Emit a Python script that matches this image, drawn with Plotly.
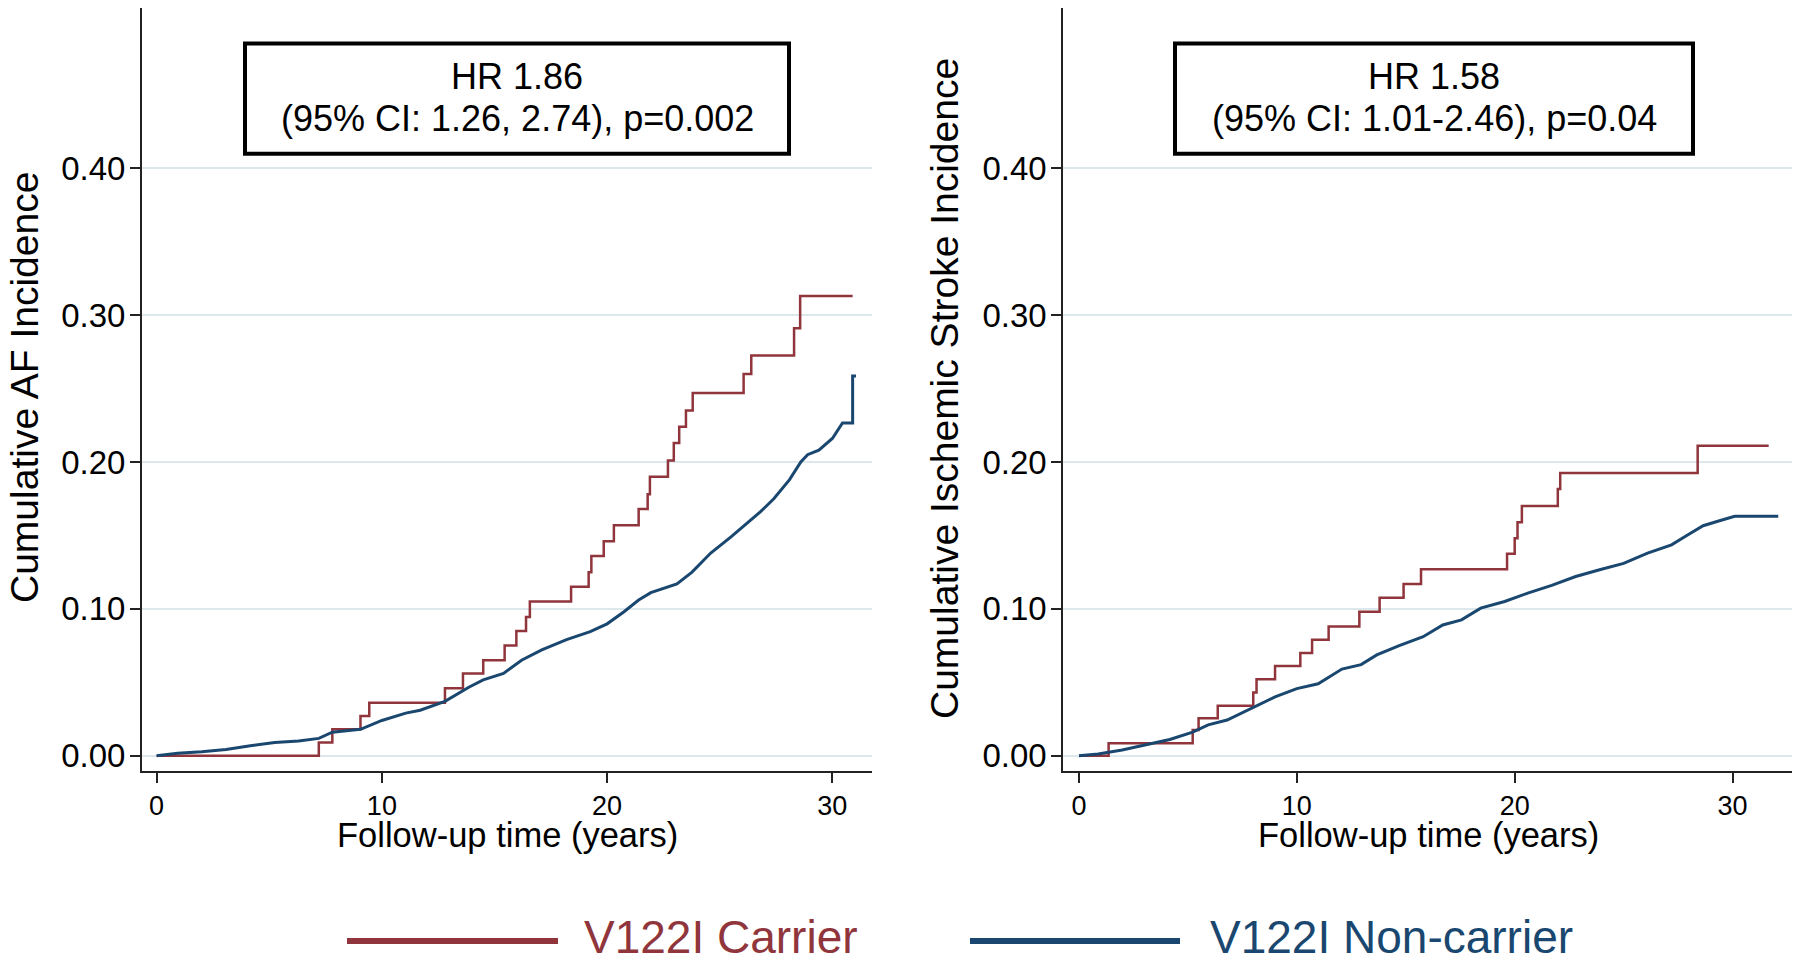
import plotly.graph_objects as go

# ---------------- data ----------------
af_carrier_t = [0, 7.2, 7.8, 9.05, 9.44, 12.8, 13.6, 14.5, 15.45, 15.97, 16.4, 16.57, 18.4, 19.18, 19.3,
                19.85, 20.3, 21.4, 21.8, 21.9, 22.7, 22.96, 23.2, 23.5, 23.8, 26.06, 26.4, 28.3, 28.57, 30.9]
af_carrier_v = [0, 0.009, 0.018, 0.027, 0.036, 0.046, 0.056, 0.065, 0.075, 0.085, 0.0945, 0.105, 0.115, 0.125,
                0.136, 0.146, 0.157, 0.168, 0.178, 0.19, 0.201, 0.213, 0.224, 0.235, 0.247, 0.26, 0.2725, 0.291,
                0.313, 0.313]

af_noncarrier_t = [0, 0.93, 2.0, 3.08, 4.16, 5.24, 6.3, 7.2, 7.8, 9.05, 10.0, 11.06, 11.7, 12.8, 13.86, 14.5,
                   15.4, 16.2, 17.1, 18.2, 19.25, 20.0, 20.75, 21.4, 21.94, 23.1, 23.77, 24.6, 25.5, 26.1, 26.8,
                   27.4, 28.1, 28.6, 28.9, 29.4, 30.0, 30.45, 30.9, 30.9, 31.05]
af_noncarrier_v = [0, 0.0016, 0.0027, 0.0043, 0.0068, 0.009, 0.010, 0.0118, 0.016, 0.018, 0.024, 0.029, 0.031,
                   0.037, 0.0466, 0.0516, 0.056, 0.065, 0.072, 0.079, 0.0845, 0.0898, 0.098, 0.106, 0.111, 0.117,
                   0.125, 0.138, 0.149, 0.157, 0.166, 0.175, 0.188, 0.200, 0.205, 0.208, 0.216, 0.2266, 0.2266,
                   0.2586, 0.2586]

st_carrier_t = [0, 1.36, 5.22, 5.49, 6.37, 8.0, 8.15, 9.0, 10.16, 10.7, 11.46, 12.87, 13.8, 14.9, 15.7, 19.65,
                20.0, 20.13, 20.33, 21.98, 22.09, 28.4, 31.66]
st_carrier_v = [0, 0.0084, 0.0175, 0.0255, 0.034, 0.043, 0.052, 0.061, 0.070, 0.079, 0.088, 0.098, 0.1075,
                0.117, 0.127, 0.1375, 0.148, 0.159, 0.170, 0.1816, 0.1925, 0.211, 0.211]

st_noncarrier_t = [0, 0.88, 1.98, 3.07, 4.17, 5.22, 5.93, 6.8, 7.46, 8.15, 9.0, 10.0, 10.98, 12.07, 12.95,
                   13.67, 14.7, 15.8, 16.7, 17.56, 18.44, 19.54, 20.6, 21.7, 22.8, 23.9, 25.0, 26.1, 27.2, 27.9,
                   28.65, 29.4, 30.1, 32.1]
st_noncarrier_v = [0, 0.0011, 0.0039, 0.0073, 0.011, 0.016, 0.021, 0.0243, 0.029, 0.034, 0.040, 0.0457, 0.049,
                   0.059, 0.062, 0.0686, 0.075, 0.081, 0.089, 0.0925, 0.1005, 0.105, 0.1107, 0.116, 0.122,
                   0.1266, 0.131, 0.138, 0.1436, 0.150, 0.1566, 0.160, 0.163, 0.163]

y_ticks = [0, 0.1, 0.2, 0.3, 0.4]
y_tick_labels = ["0.00", "0.10", "0.20", "0.30", "0.40"]
x_ticks = [0, 10, 20, 30]
series_names = ["V122I Carrier", "V122I Non-carrier"]
left_box = ["HR 1.86", "(95% CI: 1.26, 2.74), p=0.002"]
right_box = ["HR 1.58", "(95% CI: 1.01-2.46), p=0.04"]

RED = "#90353B"
BLUE = "#1A476F"
GRID = "#DDE8EC"
FONT = "Liberation Sans, Arial, Helvetica, sans-serif"

# page body has an 8px margin: lay out in screen pixels, convert to paper coords
OFF = 8
W, H = 1800 - 2 * OFF, 966 - 2 * OFF


def px(x):
    return min(1.0, max(0.0, (x - OFF) / W))


def py(y):
    return min(1.0, max(0.0, 1 - (y - OFF) / H))


fig = go.Figure()
fig.add_trace(go.Scatter(x=af_carrier_t, y=af_carrier_v, mode="lines", line=dict(color=RED, width=2.5, shape="hv"),
                         xaxis="x", yaxis="y", showlegend=False))
fig.add_trace(go.Scatter(x=af_noncarrier_t, y=af_noncarrier_v, mode="lines", line=dict(color=BLUE, width=3),
                         xaxis="x", yaxis="y", showlegend=False))
fig.add_trace(go.Scatter(x=st_carrier_t, y=st_carrier_v, mode="lines", line=dict(color=RED, width=2.5, shape="hv"),
                         xaxis="x2", yaxis="y2", showlegend=False))
fig.add_trace(go.Scatter(x=st_noncarrier_t, y=st_noncarrier_v, mode="lines", line=dict(color=BLUE, width=3),
                         xaxis="x2", yaxis="y2", showlegend=False))

# y range chosen so that the axis spans screen y 8..770.7 with 0.00 at 755.7 and 0.40 at 168.3
per_unit = (755.7 - 168.3) / 0.4
yrng = [-(770.7 - 755.7) / per_unit, (755.7 - 8) / per_unit]
xcommon = dict(showline=True, linecolor="#222", linewidth=2, ticks="outside", ticklen=10, tickwidth=2,
               tickcolor="#222", tickvals=x_ticks, showgrid=False, zeroline=False, automargin=False,
               tickfont=dict(size=27, color="black", family=FONT))
ycommon = dict(showline=True, linecolor="#222", linewidth=2, ticks="outside", ticklen=10, tickwidth=2,
               tickcolor="#222", tickvals=y_ticks, ticktext=y_tick_labels, showgrid=True, gridcolor=GRID,
               gridwidth=2, zeroline=False, range=yrng, automargin=False, ticklabelstandoff=-2,
               tickfont=dict(size=33, color="black", family=FONT))

top = py(8)
bot = py(770.7)
fig.update_layout(
    width=W, height=H, margin=dict(l=0, r=0, t=0, b=0, autoexpand=False),
    paper_bgcolor="white", plot_bgcolor="white", font=dict(family=FONT, color="black"),
    xaxis=dict(domain=[px(142), px(872)], range=[-0.65, 31.76], anchor="y", **xcommon),
    yaxis=dict(domain=[bot, top], anchor="x", **ycommon),
    xaxis2=dict(domain=[px(1063.3), px(1792)], range=[-0.72, 32.73], anchor="y2", **xcommon),
    yaxis2=dict(domain=[bot, top], anchor="x2", **ycommon),
)

ann = []
# axis titles
ann.append(dict(text="Cumulative AF Incidence", x=px(24), y=py(388), xref="paper", yref="paper",
                textangle=-90, showarrow=False, font=dict(size=39), xanchor="center", yanchor="middle",
                height=40, valign="middle"))
ann.append(dict(text="Cumulative Ischemic Stroke Incidence", x=px(944), y=py(388), xref="paper",
                yref="paper", textangle=-90, showarrow=False, font=dict(size=39), xanchor="center",
                yanchor="middle", height=40, valign="middle"))
ann.append(dict(text="Follow-up time (years)", x=px(507), y=py(835), xref="paper", yref="paper",
                showarrow=False, font=dict(size=34.5), xanchor="center", yanchor="middle"))
ann.append(dict(text="Follow-up time (years)", x=px(1428), y=py(835), xref="paper", yref="paper",
                showarrow=False, font=dict(size=34.5), xanchor="center", yanchor="middle"))

# HR boxes
shapes = []
for (x0, x1, lines) in [(245, 789, left_box), (1175, 1693, right_box)]:
    shapes.append(dict(type="rect", xref="paper", yref="paper", x0=px(x0), x1=px(x1),
                       y0=py(153.8), y1=py(43.6), line=dict(color="black", width=4),
                       fillcolor="white"))
    cx = px((x0 + x1) / 2)
    ann.append(dict(text=lines[0], x=cx, y=py(77), xref="paper", yref="paper", showarrow=False,
                    font=dict(size=36), xanchor="center", yanchor="middle"))
    ann.append(dict(text=lines[1], x=cx, y=py(118), xref="paper", yref="paper", showarrow=False,
                    font=dict(size=36), xanchor="center", yanchor="middle"))

# legend
ly = py(941)
for (x0, x1, tx, col, name) in [(347, 558, 582, RED, series_names[0]), (970, 1180, 1208, BLUE, series_names[1])]:
    shapes.append(dict(type="line", xref="paper", yref="paper", x0=px(x0), x1=px(x1), y0=ly, y1=ly,
                       line=dict(color=col, width=6)))
    ann.append(dict(text=name, x=px(tx), y=py(937), xref="paper", yref="paper", showarrow=False,
                    font=dict(size=46, color=col), xanchor="left", yanchor="middle"))

fig.update_layout(annotations=ann, shapes=shapes)
fig.write_html("out.html")
